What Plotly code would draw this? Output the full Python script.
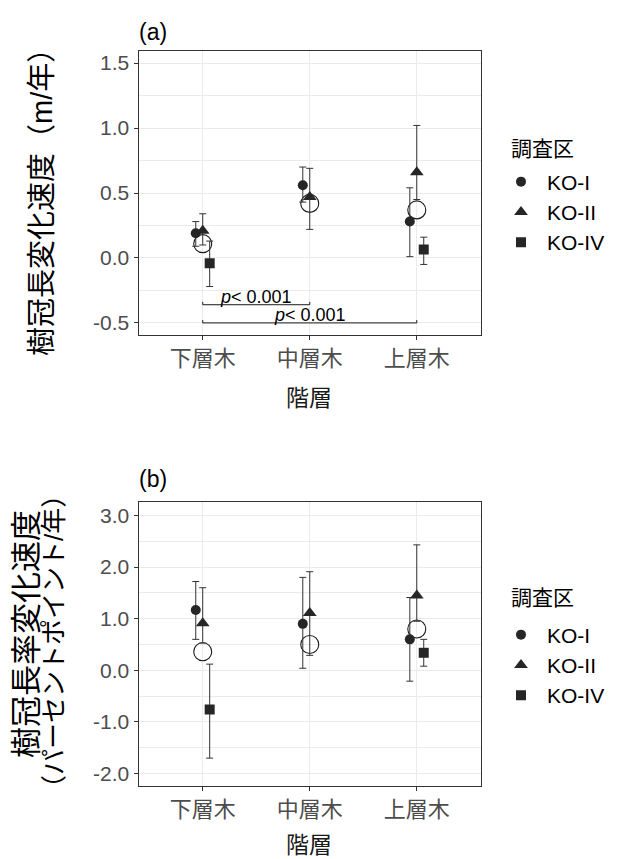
import plotly.graph_objects as go

# ---------------- data ----------------
categories = ["下層木", "中層木", "上層木"]
groups = ["KO-I", "KO-II", "KO-IV"]

# panel (a): crown length change rate (m/yr)
a_KO_I = [0.19, 0.56, 0.28]
a_KO_I_hi = [0.28, 0.70, 0.54]
a_KO_I_lo = [0.09, 0.43, 0.01]
a_KO_II = [0.21, 0.47, 0.66]
a_KO_II_hi = [0.34, 0.69, 1.02]
a_KO_II_lo = [0.10, 0.22, 0.45]
a_KO_IV = [-0.04, None, 0.065]
a_KO_IV_hi = [0.13, None, 0.16]
a_KO_IV_lo = [-0.22, None, -0.05]
a_mean = [0.11, 0.42, 0.37]

# panel (b): crown ratio change rate (percentage points/yr)
b_KO_I = [1.17, 0.90, 0.60]
b_KO_I_hi = [1.72, 1.80, 1.41]
b_KO_I_lo = [0.60, 0.04, -0.21]
b_KO_II = [0.91, 1.11, 1.45]
b_KO_II_hi = [1.60, 1.91, 2.43]
b_KO_II_lo = [0.53, 0.29, 0.95]
b_KO_IV = [-0.76, None, 0.34]
b_KO_IV_hi = [0.12, None, 0.60]
b_KO_IV_lo = [-1.70, None, 0.08]
b_mean = [0.36, 0.50, 0.80]

a_ticks = [-0.5, 0.0, 0.5, 1.0, 1.5]
a_ticklabels = ["-0.5", "0.0", "0.5", "1.0", "1.5"]
b_ticks = [-2.0, -1.0, 0.0, 1.0, 2.0, 3.0]
b_ticklabels = ["-2.0", "-1.0", "0.0", "1.0", "2.0", "3.0"]

# significance brackets in panel (a): (from category, to category, y level, label)
bracket_from = [0, 0]
bracket_to = [1, 2]
bracket_y = [-0.36, -0.50]
bracket_label = ["<i>p</i>< 0.001", "<i>p</i>< 0.001"]

# ---------------- style ----------------
W, H = 617, 859
FONT = "Liberation Sans, Arial, Noto Sans CJK JP, sans-serif"
MARK = "#262626"
symbols = {"KO-I": "circle", "KO-II": "triangle-up", "KO-IV": "square"}
sizes = {"KO-I": 10, "KO-II": 12, "KO-IV": 10}
dodge = {"KO-I": -0.065, "KO-II": 0.0, "KO-IV": 0.065}

PX_L, PX_R = 138.5, 481
A_TOP, A_BOT = 51, 335
B_TOP, B_BOT = 502, 786
a_range = [-0.593, 1.593]
b_range = [-2.24, 3.26]


def py(v):
    return 1 - v / H


def px(v):
    return v / W


fig = go.Figure()
xpos = list(range(1, len(categories) + 1))


def add_panel(xa, ya, series, mean, legend_name):
    # mean (open circle)
    fig.add_trace(go.Scatter(
        x=xpos, y=mean, mode="markers", xaxis=xa, yaxis=ya,
        marker=dict(symbol="circle-open", size=18, color="#1a1a1a", line=dict(width=1.1)),
        showlegend=False, hoverinfo="skip"))
    for g, (vals, hi, lo) in zip(groups, series):
        xs, ys, ep, em = [], [], [], []
        for i, v in enumerate(vals):
            if v is None:
                continue
            xs.append(xpos[i] + dodge[g])
            ys.append(v)
            ep.append(hi[i] - v)
            em.append(v - lo[i])
        fig.add_trace(go.Scatter(
            x=xs, y=ys, mode="markers", name=g, xaxis=xa, yaxis=ya,
            legend=legend_name,
            marker=dict(symbol=symbols[g], size=sizes[g], color=MARK),
            error_y=dict(type="data", symmetric=False, array=ep, arrayminus=em,
                         color="#333333", thickness=1, width=3.5),
            hoverinfo="skip"))


add_panel("x", "y",
          [(a_KO_I, a_KO_I_hi, a_KO_I_lo), (a_KO_II, a_KO_II_hi, a_KO_II_lo),
           (a_KO_IV, a_KO_IV_hi, a_KO_IV_lo)], a_mean, "legend")
add_panel("x2", "y2",
          [(b_KO_I, b_KO_I_hi, b_KO_I_lo), (b_KO_II, b_KO_II_hi, b_KO_II_lo),
           (b_KO_IV, b_KO_IV_hi, b_KO_IV_lo)], b_mean, "legend2")

# brackets
TIP = 0.022
annotations = []
for f, t, yv, lab in zip(bracket_from, bracket_to, bracket_y, bracket_label):
    x1, x2 = xpos[f], xpos[t]
    fig.add_trace(go.Scatter(
        x=[x1, x1, x2, x2], y=[yv + TIP, yv, yv, yv + TIP], mode="lines",
        line=dict(color="#1a1a1a", width=1), showlegend=False, hoverinfo="skip",
        xaxis="x", yaxis="y"))
    annotations.append(dict(
        x=(x1 + x2) / 2, y=yv, xref="x", yref="y", text=lab, showarrow=False,
        yanchor="bottom", yshift=-3, borderpad=0,
        font=dict(family=FONT, size=18, color="black")))


def minor_of(t):
    return [(t[i] + t[i + 1]) / 2 for i in range(len(t) - 1)]


axis_common = dict(
    showline=True, mirror=True, linecolor="#333333", linewidth=1,
    ticks="outside", ticklen=4, tickcolor="#333333", tickwidth=1,
    gridcolor="#EBEBEB", gridwidth=1, zeroline=False,
    tickfont=dict(family=FONT, size=21, color="#4D4D4D"),
)

xa = dict(axis_common, domain=[px(PX_L), px(PX_R)], range=[0.4, 3.6],
          tickmode="array", tickvals=xpos, ticktext=categories,
          tickfont=dict(family=FONT, size=22, color="#4D4D4D"))

legend_common = dict(xanchor="left", yanchor="middle",
                     font=dict(family=FONT, size=21, color="black"),
                     itemwidth=42, bgcolor="rgba(0,0,0,0)", tracegroupgap=0)

fig.update_layout(
    width=W, height=H, margin=dict(l=0, r=0, t=0, b=0),
    paper_bgcolor="white", plot_bgcolor="white",
    xaxis=dict(xa, anchor="y"),
    xaxis2=dict(xa, anchor="y2"),
    yaxis=dict(axis_common, domain=[py(A_BOT), py(A_TOP)], range=a_range, anchor="x",
               tickmode="array", tickvals=a_ticks, ticktext=a_ticklabels,
               minor=dict(tickmode="array", tickvals=minor_of(a_ticks), showgrid=True,
                          gridcolor="#EBEBEB", gridwidth=0.6, ticklen=0)),
    yaxis2=dict(axis_common, domain=[py(B_BOT), py(B_TOP)], range=b_range, anchor="x2",
                tickmode="array", tickvals=b_ticks, ticktext=b_ticklabels,
                minor=dict(tickmode="array", tickvals=minor_of(b_ticks), showgrid=True,
                           gridcolor="#EBEBEB", gridwidth=0.6, ticklen=0)),
    legend=dict(legend_common, x=px(495), y=py(212)),
    legend2=dict(legend_common, x=px(495), y=py(665)),
    showlegend=True,
)

annotations += [
    dict(x=px(137), y=py(32), xref="paper", yref="paper", text="(a)", showarrow=False,
         xanchor="left", yanchor="middle", font=dict(family=FONT, size=23, color="black")),
    dict(x=px(137), y=py(479), xref="paper", yref="paper", text="(b)", showarrow=False,
         xanchor="left", yanchor="middle", font=dict(family=FONT, size=23, color="black")),
    # legend titles
    dict(x=px(509), y=py(148), xref="paper", yref="paper", text="調査区", showarrow=False,
         xanchor="left", yanchor="middle", font=dict(family=FONT, size=21, color="black")),
    dict(x=px(509), y=py(597), xref="paper", yref="paper", text="調査区", showarrow=False,
         xanchor="left", yanchor="middle", font=dict(family=FONT, size=21, color="black")),
    # y axis titles
    dict(x=px(42), y=py(195), xref="paper", yref="paper", text="樹冠長変化速度（m/年）",
         showarrow=False, textangle=-90, xanchor="center", yanchor="middle",
         font=dict(family=FONT, size=29, color="black")),
    dict(x=px(26), y=py(634), xref="paper", yref="paper", text="樹冠長率変化速度",
         showarrow=False, textangle=-90, xanchor="center", yanchor="middle",
         font=dict(family=FONT, size=31, color="black")),
    dict(x=px(54), y=py(642), xref="paper", yref="paper", text="（パーセントポイント/年）",
         showarrow=False, textangle=-90, xanchor="center", yanchor="middle",
         font=dict(family=FONT, size=26, color="black")),
    # x axis titles
    dict(x=px(309), y=py(398), xref="paper", yref="paper", text="階層", showarrow=False,
         xanchor="center", yanchor="middle", font=dict(family=FONT, size=23, color="#1a1a1a")),
    dict(x=px(309), y=py(845), xref="paper", yref="paper", text="階層", showarrow=False,
         xanchor="center", yanchor="middle", font=dict(family=FONT, size=23, color="#1a1a1a")),
]
fig.update_layout(annotations=annotations)

fig.write_html("out.html", config={"displayModeBar": False},
               post_script="document.body.style.margin='0px';")
